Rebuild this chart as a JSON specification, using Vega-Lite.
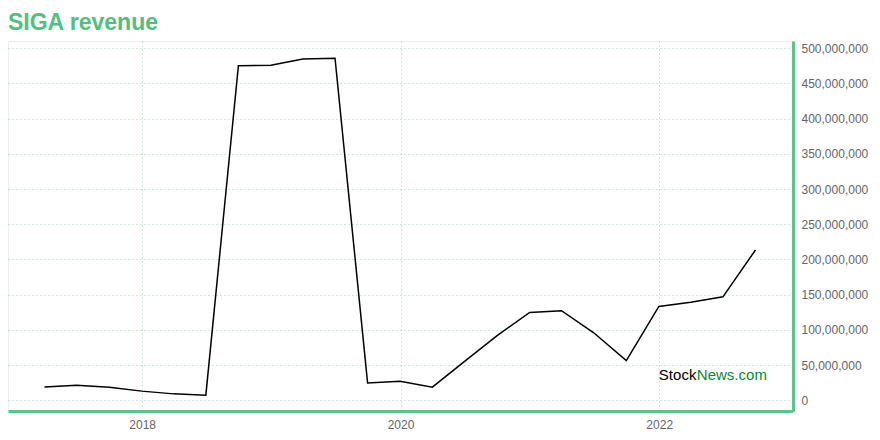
{
  "$schema": "https://vega.github.io/schema/vega-lite/v6.json",
  "width": 880,
  "height": 440,
  "autosize": {"type": "fit", "contains": "padding"},
  "padding": {"left": 8, "right": 12, "top": 12, "bottom": 10},
  "background": "white",
  "title": {
    "text": "SIGA revenue",
    "anchor": "start",
    "font": "Liberation Sans",
    "fontSize": 23,
    "fontWeight": "bold",
    "color": "#4fc07f",
    "offset": 6
  },
  "config": {
    "view": {"stroke": "#ececec", "strokeWidth": 1},
    "font": "Liberation Sans",
    "axis": {
      "title": null,
      "ticks": false,
      "domainColor": "#5cc48a",
      "domainWidth": 3,
      "labelColor": "#666666",
      "labelFontSize": 12,
      "labelPadding": 8,
      "labelOverlap": false,
      "grid": true,
      "gridColor": "#8fd6ae",
      "gridDash": [1, 3],
      "gridWidth": 1
    },
    "axisY": {
      "values": [0, 50000000, 100000000, 150000000, 200000000, 250000000, 300000000, 350000000, 400000000, 450000000, 500000000]
    }
  },
  "layer": [
    {
      "data": {
        "values": [
          {"date": "2017-03-31", "revenue": 19200000},
          {"date": "2017-06-30", "revenue": 21600000},
          {"date": "2017-09-30", "revenue": 18800000},
          {"date": "2017-12-31", "revenue": 13200000},
          {"date": "2018-03-31", "revenue": 9300000},
          {"date": "2018-06-30", "revenue": 7500000},
          {"date": "2018-09-30", "revenue": 475000000},
          {"date": "2018-12-31", "revenue": 475500000},
          {"date": "2019-03-31", "revenue": 484400000},
          {"date": "2019-06-30", "revenue": 485500000},
          {"date": "2019-09-30", "revenue": 24900000},
          {"date": "2019-12-31", "revenue": 27300000},
          {"date": "2020-03-31", "revenue": 18800000},
          {"date": "2020-06-30", "revenue": 55300000},
          {"date": "2020-09-30", "revenue": 92000000},
          {"date": "2020-12-31", "revenue": 124900000},
          {"date": "2021-03-31", "revenue": 127300000},
          {"date": "2021-06-30", "revenue": 96000000},
          {"date": "2021-09-30", "revenue": 56600000},
          {"date": "2021-12-31", "revenue": 133300000},
          {"date": "2022-03-31", "revenue": 139400000},
          {"date": "2022-06-30", "revenue": 147000000},
          {"date": "2022-09-30", "revenue": 213500000}
        ]
      },
      "mark": {"type": "line", "color": "#000000", "strokeWidth": 1.5},
      "encoding": {
        "x": {
          "field": "date",
          "type": "temporal",
          "scale": {
            "type": "utc",
            "domain": [
              {"year": 2016, "month": 12, "date": 18, "utc": true},
              {"year": 2023, "month": 1, "date": 14, "utc": true}
            ]
          },
          "axis": {
            "orient": "bottom",
            "values": [
              {"year": 2018, "month": 1, "date": 1, "utc": true},
              {"year": 2020, "month": 1, "date": 1, "utc": true},
              {"year": 2022, "month": 1, "date": 1, "utc": true}
            ],
            "labelExpr": "utcFormat(datum.value, '%Y')"
          }
        },
        "y": {
          "field": "revenue",
          "type": "quantitative",
          "scale": {"domain": [-15000000, 510000000], "nice": false, "zero": false},
          "axis": {
            "orient": "right",
            "labelExpr": "format(datum.value, ',')"
          }
        }
      }
    },
    {
      "data": {"values": [{"label": "Stock"}]},
      "mark": {"type": "text", "align": "left", "baseline": "alphabetic", "fontSize": 15, "color": "#000000", "font": "Liberation Sans"},
      "encoding": {
        "text": {"field": "label"},
        "x": {"datum": {"year": 2021, "month": 12, "date": 31, "utc": true}, "type": "temporal"},
        "y": {"datum": 28700000, "type": "quantitative"}
      }
    },
    {
      "data": {"values": [{"label": "News.com"}]},
      "mark": {"type": "text", "align": "left", "baseline": "alphabetic", "fontSize": 15, "dx": 38, "color": "#0a8a2e", "font": "Liberation Sans"},
      "encoding": {
        "text": {"field": "label"},
        "x": {"datum": {"year": 2021, "month": 12, "date": 31, "utc": true}, "type": "temporal"},
        "y": {"datum": 28700000, "type": "quantitative"}
      }
    }
  ]
}
